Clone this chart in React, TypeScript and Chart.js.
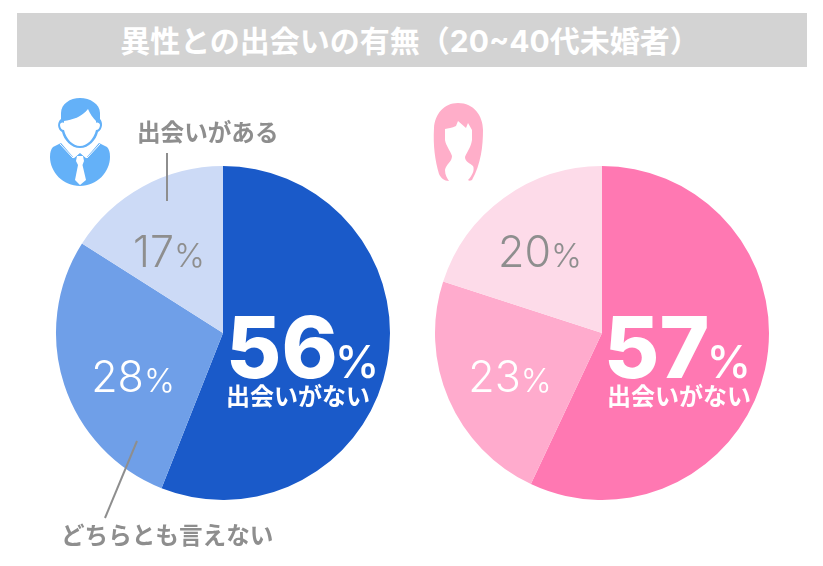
import React, { useEffect, useRef } from "react";
import { Chart, registerables } from "chart.js";
Chart.register(...registerables);

const categories = ["出会いがない", "どちらとも言えない", "出会いがある"];
const maleValues = [56, 28, 16];
const femaleValues = [57, 23, 20];
const maleLabels = ["56", "28", "17"];
const femaleLabels = ["57", "23", "20"];
const maleColors = ["#1a5ac9", "#6f9fe8", "#ccdaf6"];
const femaleColors = ["#ff78b2", "#ffabcd", "#fddbe9"];
const title = "異性との出会いの有無（20~40代未婚者）";

const FONT = 'Inter, "Noto Sans CJK JP", sans-serif';
const JP = '"Noto Sans CJK JP", sans-serif';

function Pie({ left, values, colors }: { left: number; values: number[]; colors: string[] }) {
  const ref = useRef<HTMLCanvasElement>(null);
  useEffect(() => {
    const chart = new Chart(ref.current!, {
      type: "pie",
      data: {
        labels: categories,
        datasets: [{ data: values, backgroundColor: colors, borderWidth: 0 }],
      },
      options: {
        animation: false,
        responsive: false,
        radius: 167,
        layout: { padding: 0 },
        plugins: { legend: { display: false }, tooltip: { enabled: false } },
      },
    });
    return () => chart.destroy();
  }, []);
  return (
    <canvas
      ref={ref}
      width={340}
      height={340}
      style={{ position: "absolute", left, top: 163, width: 340, height: 340 }}
    />
  );
}

function Txt({ x, y, size, color, weight = 400, font = FONT, children, center = false }: any) {
  return (
    <div
      style={{
        position: "absolute",
        left: x,
        top: y,
        transform: center ? "translate(-50%, -50%)" : "translateY(-50%)",
        fontSize: size,
        color,
        fontWeight: weight,
        fontFamily: font,
        lineHeight: 1,
        whiteSpace: "nowrap",
      }}
    >
      {children}
    </div>
  );
}

function Value({ x, y, num, color }: { x: number; y: number; num: string; color: string }) {
  return (
    <Txt x={x} y={y} size={43} color={color} weight={300} center>
      {num}
      <span style={{ fontSize: 33 }}>%</span>
    </Txt>
  );
}

function Big({ x, num }: { x: number; num: string }) {
  return (
    <Txt x={x} y={347} size={85} color="#fff" weight={800}>
      {num}
      <span style={{ fontSize: 45, fontWeight: 500, marginLeft: -3 }}>%</span>
    </Txt>
  );
}

export default function App() {
  return (
    <div style={{ position: "fixed", left: 0, top: 0, width: 823, height: 566, background: "#fff", overflow: "hidden" }}>
      <div style={{ position: "absolute", left: 17, top: 13, width: 790, height: 54, background: "#d3d3d3" }} />
      <Txt x={410} y={41} size={30} color="#fff" weight={700} center>
        {title}
      </Txt>

      <Pie left={53} values={maleValues} colors={maleColors} />
      <Pie left={432} values={femaleValues} colors={femaleColors} />

      <svg width={823} height={566} style={{ position: "absolute", left: 0, top: 0 }}>
        <line x1={167} y1={153} x2={167} y2={201} stroke="#8e8e8e" strokeWidth={2} />
        <line x1={137} y1={441} x2={105} y2={518} stroke="#8e8e8e" strokeWidth={2} />
        {/* male icon */}
        <g>
          <path fill="#64b1f8" d="M80 98 C70 98 61 104 61 113 L61 119 C57 122 57 129 62 132 C64 140 71 148 80 148 C89 148 96 140 98 132 C103 129 103 122 100 119 L100 113 C100 104 90 98 80 98 Z" />
          <path fill="#fff" d="M64 121 C72 120 82 117 88 109 C90 114 93 118 96 121 L96 123 C97 122 100 123 100 125 C100 128 98 130 96 130 C94 139 87 146 80 146 C73 146 66 139 64 130 C62 130 60 128 60 125 C60 123 62 122 64 123 Z" />
          <path fill="#64b1f8" d="M61 143 L74 158 L80 153 L86 158 L99 143 L107 147 C109 149 110 152 110 157 C110 172 97 186 80 186 C63 186 50 172 50 157 C50 152 51 149 53 147 Z" />
          <path fill="#fff" d="M77 156 L83 156 L84 161 L82.5 165 L86 180 L80 185 L75 180 L78 165 L76 161 Z" />
          <path fill="none" stroke="#fff" strokeWidth={1} d="M60 144 L73 158 L80 152 L87 158 L100 144" />
        </g>
        {/* female icon */}
        <path fill="#ffaec9" d="M458 103 C474 103 483 116 483 130 C483 146 481 164 472 180 C470 181 469 181 468 180 C472 176 475 170 473 166 C470 163 465 162 465 157 C467 152 471 147 472 140 L472 130 L468 123 L466 128 L458 121 L456 126 C452 128 448 128 445 129 L445 140 C446 146 450 150 452 156 C452 162 446 164 445 170 C445 175 447 178 449 181 C444 181 441 178 439 174 C435 160 433 146 434 128 C435 114 444 103 458 103 Z" />
      </svg>

      {/* male labels */}
      <Txt x={137} y={132} size={23.6} color="#8e8e8e" weight={700} font={JP}>出会いがある</Txt>
      <Txt x={61} y={535} size={23.6} color="#8e8e8e" weight={700} font={JP}>どちらとも言えない</Txt>
      <Value x={169} y={251} num={maleLabels[2]} color="#8e8e8e" />
      <Value x={133} y={376} num={maleLabels[1]} color="#fff" />
      <Big x={226} num={maleLabels[0]} />
      <Txt x={226} y={395} size={24} color="#fff" weight={700} font={JP}>{categories[0]}</Txt>

      {/* female labels */}
      <Value x={540} y={251} num={femaleLabels[2]} color="#8e8e8e" />
      <Value x={510} y={376} num={femaleLabels[1]} color="#fff" />
      <Big x={604} num={femaleLabels[0]} />
      <Txt x={607} y={395} size={24} color="#fff" weight={700} font={JP}>{categories[0]}</Txt>
    </div>
  );
}
